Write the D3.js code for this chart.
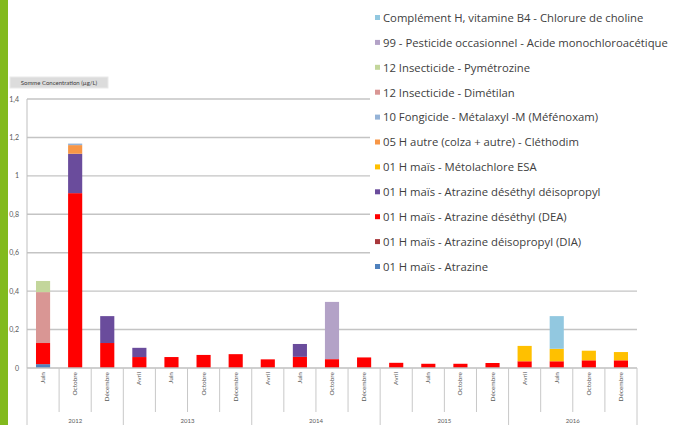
<!DOCTYPE html>
<html>
<head>
<meta charset="utf-8">
<script src="https://cdnjs.cloudflare.com/ajax/libs/d3/7.8.5/d3.min.js"></script>
<style>
  body { margin: 0; background: #fff; }
  svg { display: block; font-family: Lato, "Open Sans", sans-serif; }
</style>
</head>
<body>
<svg id="chart" width="691" height="425"></svg>
<script>

/* global d3 */

// categories: year / month
let years = ['2012', '2013', '2014', '2015', '2016'];
let months = [
    ['Juin', 'Octobre', 'Décembre'],
    ['Avril', 'Juin', 'Octobre', 'Décembre'],
    ['Avril', 'Juin', 'Octobre', 'Décembre'],
    ['Avril', 'Juin', 'Octobre', 'Décembre'],
    ['Avril', 'Juin', 'Octobre', 'Décembre']
];

// series names, bottom of the stack first
let seriesNames = [
    '01 H maïs - Atrazine',
    '01 H maïs - Atrazine déisopropyl (DIA)',
    '01 H maïs - Atrazine déséthyl (DEA)',
    '01 H maïs - Atrazine déséthyl déisopropyl',
    '01 H maïs - Métolachlore ESA',
    '05 H autre (colza + autre) - Cléthodim',
    '10 Fongicide - Métalaxyl -M (Méfénoxam)',
    '12 Insecticide - Dimétilan',
    '12 Insecticide - Pymétrozine',
    '99 - Pesticide occasionnel - Acide monochloroacétique',
    'Complément H, vitamine B4 - Chlorure de choline'
];
let seriesColors = [
    '#4F81BD', '#A8383B', '#FF0000', '#6A4C9C', '#FFC000', '#F79646',
    '#95B3D7', '#D99694', '#C3D69B', '#B3A2C7', '#92C8E0'
];

// values in µg/L, one per category (19 samples)
let atrazine    = [0.02, 0, 0, 0, 0, 0, 0, 0, 0, 0, 0, 0, 0, 0, 0, 0, 0, 0, 0];
let dia         = [0, 0, 0, 0, 0, 0, 0, 0, 0, 0, 0, 0, 0, 0, 0, 0, 0, 0, 0];
let dea         = [0.11, 0.91, 0.13, 0.057, 0.057, 0.068, 0.072, 0.045, 0.058, 0.046, 0.055, 0.027, 0.022, 0.022, 0.026, 0.035, 0.035, 0.04, 0.04];
let deaDia      = [0, 0.205, 0.14, 0.048, 0, 0, 0, 0, 0.067, 0, 0, 0, 0, 0, 0, 0, 0, 0, 0];
let metolaEsa   = [0, 0, 0, 0, 0, 0, 0, 0, 0, 0, 0, 0, 0, 0, 0, 0.08, 0.065, 0.05, 0.043];
let clethodim   = [0, 0.045, 0, 0, 0, 0, 0, 0, 0, 0, 0, 0, 0, 0, 0, 0, 0, 0, 0];
let metalaxyl   = [0, 0.008, 0, 0, 0, 0, 0, 0, 0, 0, 0, 0, 0, 0, 0, 0, 0, 0, 0];
let dimetilan   = [0.265, 0, 0, 0, 0, 0, 0, 0, 0, 0, 0, 0, 0, 0, 0, 0, 0, 0, 0];
let pymetrozine = [0.058, 0, 0, 0, 0, 0, 0, 0, 0, 0, 0, 0, 0, 0, 0, 0, 0, 0, 0];
let acideMca    = [0, 0, 0, 0, 0, 0, 0, 0, 0, 0.298, 0, 0, 0, 0, 0, 0, 0, 0, 0];
let choline     = [0, 0, 0, 0, 0, 0, 0, 0, 0, 0, 0, 0, 0, 0, 0, 0, 0.17, 0, 0];

let seriesValues = [atrazine, dia, dea, deaDia, metolaEsa, clethodim, metalaxyl, dimetilan, pymetrozine, acideMca, choline];

let yTicks = [0, 0.2, 0.4, 0.6, 0.8, 1, 1.2, 1.4];

// build category rows for the stack
let cats = [];
years.forEach((yr, gi) => {
    months[gi].forEach(m => cats.push({key: yr + '-' + m, year: yr, month: m, group: gi}));
});
let rows = cats.map((c, i) => {
    let row = {key: c.key};
    seriesNames.forEach((s, si) => { row[s] = seriesValues[si][i]; });
    return row;
});

let svg = d3.select('#chart');

let plot = {left: 27, right: 637, top: 99, bottom: 368};

let x = d3.scaleBand()
    .domain(cats.map(c => c.key))
    .range([plot.left, plot.right])
    .paddingInner(0.56)
    .paddingOuter(0.28);

let y = d3.scaleLinear()
    .domain([0, 1.4])
    .range([plot.bottom, plot.top]);

// green strip on the left
svg.append('rect')
    .attr('x', 0).attr('y', 0)
    .attr('width', 8).attr('height', 425)
    .attr('fill', '#82BA1E');

// gridlines
svg.append('g')
    .selectAll('line')
    .data(yTicks.filter(t => t > 0))
    .enter()
    .append('line')
    .attr('x1', plot.left).attr('x2', plot.right)
    .attr('y1', d => y(d)).attr('y2', d => y(d))
    .attr('stroke', '#C4C4C4')
    .attr('stroke-width', 1.4);

// y axis line + labels
svg.append('line')
    .attr('x1', plot.left).attr('x2', plot.left)
    .attr('y1', plot.top).attr('y2', plot.bottom)
    .attr('stroke', '#BFBFBF');

svg.append('g')
    .selectAll('text')
    .data(yTicks)
    .enter()
    .append('text')
    .attr('x', 19)
    .attr('y', d => y(d) + 2.5)
    .attr('text-anchor', 'end')
    .attr('font-size', 7)
    .attr('fill', '#595959')
    .text(d => d3.format('.1f')(d).replace('.0', '').replace('.', ','));

// axis title in grey box
svg.append('rect')
    .attr('x', 10).attr('y', 77)
    .attr('width', 98).attr('height', 11)
    .attr('fill', '#DCDCDC')
    .attr('stroke', '#EAEAEA');
svg.append('text')
    .attr('x', 59).attr('y', 85)
    .attr('text-anchor', 'middle')
    .attr('font-size', 6)
    .attr('fill', '#404040')
    .text('Somme Concentration (µg/L)');

// stacked bars
let stack = d3.stack().keys(seriesNames);
let layers = stack(rows);

svg.append('g')
    .selectAll('g')
    .data(layers)
    .enter()
    .append('g')
    .attr('fill', (d, i) => seriesColors[i])
    .selectAll('rect')
    .data(d => d.filter(p => p[1] - p[0] > 0))
    .enter()
    .append('rect')
    .attr('x', d => x(d.data.key))
    .attr('width', x.bandwidth())
    .attr('y', d => y(d[1]))
    .attr('height', d => y(d[0]) - y(d[1]));

// x axis baseline
svg.append('line')
    .attr('x1', plot.left).attr('x2', plot.right)
    .attr('y1', plot.bottom).attr('y2', plot.bottom)
    .attr('stroke', '#BFBFBF')
    .attr('stroke-width', 1.3);

// category separators
let sepXs = d3.range(cats.length + 1).map(i => plot.left + i * (plot.right - plot.left) / cats.length);
let groupStarts = [0];
months.forEach((m, gi) => groupStarts.push(groupStarts[gi] + m.length));

svg.append('g')
    .selectAll('line')
    .data(sepXs)
    .enter()
    .append('line')
    .attr('x1', d => d).attr('x2', d => d)
    .attr('y1', plot.bottom)
    .attr('y2', (d, i) => groupStarts.includes(i) ? 425 : 412)
    .attr('stroke', '#C8C8C8');

// month labels (rotated)
svg.append('g')
    .selectAll('text')
    .data(cats)
    .enter()
    .append('text')
    .attr('transform', d => `translate(${x(d.key) + x.bandwidth() / 2 + 2},372) rotate(-90)`)
    .attr('text-anchor', 'end')
    .attr('font-size', 6.5)
    .attr('fill', '#595959')
    .text(d => d.month);

// year labels
svg.append('g')
    .selectAll('text')
    .data(years)
    .enter()
    .append('text')
    .attr('x', (d, gi) => (sepXs[groupStarts[gi]] + sepXs[groupStarts[gi + 1]]) / 2)
    .attr('y', 423)
    .attr('text-anchor', 'middle')
    .attr('font-size', 6)
    .attr('fill', '#595959')
    .text(d => d);

// legend, white box over the plot on the right
svg.append('rect')
    .attr('x', 370).attr('y', 0)
    .attr('width', 321).attr('height', 280)
    .attr('fill', '#fff');

let legendOrder = seriesNames.slice().reverse();
let legend = svg.append('g')
    .selectAll('g')
    .data(legendOrder)
    .enter()
    .append('g')
    .attr('transform', (d, i) => `translate(375,${18 + i * 24.9})`);

legend.append('rect')
    .attr('x', 0).attr('y', -3)
    .attr('width', 5).attr('height', 5)
    .attr('fill', d => seriesColors[seriesNames.indexOf(d)]);

legend.append('text')
    .attr('x', 8).attr('y', 3.8)
    .attr('font-family', '"Open Sans", sans-serif')
    .attr('font-size', 11.3)
    .attr('fill', '#404040')
    .text(d => d);

</script>
</body>
</html>
